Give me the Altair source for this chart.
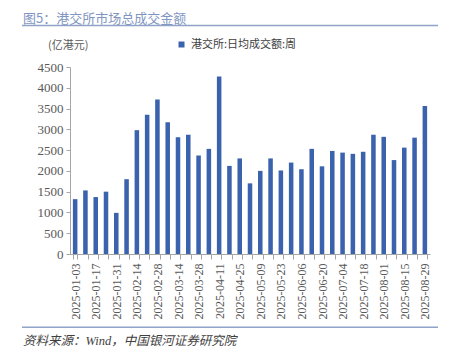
import json
import altair as alt
import pandas as pd

dates = [
    "2025-01-03", "2025-01-10", "2025-01-17", "2025-01-24", "2025-01-31",
    "2025-02-07", "2025-02-14", "2025-02-21", "2025-02-28", "2025-03-07",
    "2025-03-14", "2025-03-21", "2025-03-28", "2025-04-04", "2025-04-11",
    "2025-04-18", "2025-04-25", "2025-05-02", "2025-05-09", "2025-05-16",
    "2025-05-23", "2025-05-30", "2025-06-06", "2025-06-13", "2025-06-20",
    "2025-06-27", "2025-07-04", "2025-07-11", "2025-07-18", "2025-07-25",
    "2025-08-01", "2025-08-08", "2025-08-15", "2025-08-22", "2025-08-29",
]
values = [
    1320, 1530, 1370, 1500, 990,
    1800, 2980, 3350, 3720, 3170,
    2810, 2870, 2370, 2530, 4270,
    2120, 2300, 1700, 2000, 2300,
    2010, 2200, 2040, 2530, 2110,
    2480, 2440, 2410, 2460, 2870,
    2820, 2260, 2560, 2800, 3560,
]
series_name = "港交所:日均成交额:周"
label_dates = dates[::2]
y_ticks = [0, 500, 1000, 1500, 2000, 2500, 3000, 3500, 4000, 4500]

title_text = "图5：港交所市场总成交金额"
unit_text = "(亿港元)"
source_text = "资料来源：Wind，中国银河证券研究院"

df = pd.DataFrame({"date": dates, "value": values, "series": series_name})

SERIF = "Liberation Serif, Noto Sans CJK SC"
SANS = "Noto Sans CJK SC"
BAR = "#3b63ad"
AXIS = "#a6a6a6"
LABEL = "#595959"
DECOR = "#8fa3c8"

label_expr = "indexof(" + json.dumps(label_dates) + ", datum.value) >= 0 ? datum.label : ''"

bars = alt.Chart(df).mark_bar().encode(
    x=alt.X(
        "date:N",
        sort=dates,
        scale=alt.Scale(paddingInner=0.56, paddingOuter=0.28),
        axis=alt.Axis(
            title=None,
            labelAngle=270,
            labelExpr=label_expr,
            labelFont=SERIF,
            labelFontSize=12,
            labelColor=LABEL,
            labelPadding=4,
            tickBand="extent",
            tickSize=5,
            tickColor=AXIS,
            domainColor=AXIS,
            grid=False,
        ),
    ),
    y=alt.Y(
        "value:Q",
        scale=alt.Scale(domain=[0, 4500], nice=False),
        axis=alt.Axis(
            title=None,
            values=y_ticks,
            format="d",
            labelFont=SERIF,
            labelFontSize=13,
            labelColor=LABEL,
            labelPadding=3,
            tickSize=4,
            tickColor=AXIS,
            domainColor=AXIS,
            grid=False,
        ),
    ),
    color=alt.Color(
        "series:N",
        scale=alt.Scale(range=[BAR]),
        legend=alt.Legend(
            title=None,
            orient="none",
            legendX=106,
            legendY=-28,
            symbolType="square",
            symbolSize=36,
            symbolStrokeWidth=0,
            labelFont=SANS,
            labelFontSize=11,
            labelColor="#404040",
            labelOffset=4,
        ),
    ),
)

one = pd.DataFrame({"k": [0]})

title = alt.Chart(one).mark_text(
    text=title_text, font=SANS, fontSize=13, color="#7f96c2",
    align="left", baseline="middle",
).encode(x=alt.value(-47), y=alt.value(-48.5))

top_line = alt.Chart(one).mark_rule(color=DECOR, strokeWidth=1.5).encode(
    x=alt.value(-48), x2=alt.value(368), y=alt.value(-41.5)
)

unit = alt.Chart(one).mark_text(
    text=unit_text, font=SANS, fontSize=11, color=LABEL,
    align="left", baseline="middle",
).encode(x=alt.value(-22), y=alt.value(-21))

bottom_line = alt.Chart(one).mark_rule(color=DECOR, strokeWidth=1.5).encode(
    x=alt.value(-48), x2=alt.value(368), y=alt.value(260.3)
)

source = alt.Chart(one).mark_text(
    text=source_text, font=SERIF, fontSize=12.5, fontStyle="italic",
    color="#404040", align="left", baseline="middle",
).encode(x=alt.value(-47), y=alt.value(273.5))

chart = alt.layer(bars, title, top_line, unit, bottom_line, source).properties(
    width=360,
    height=187,
    autosize=alt.AutoSizeParams(type="none"),
    padding={"left": 62, "top": 59, "right": 11, "bottom": 93},
).configure_view(stroke=None)

chart.save("out.html", embed_options={"renderer": "svg", "actions": False})
